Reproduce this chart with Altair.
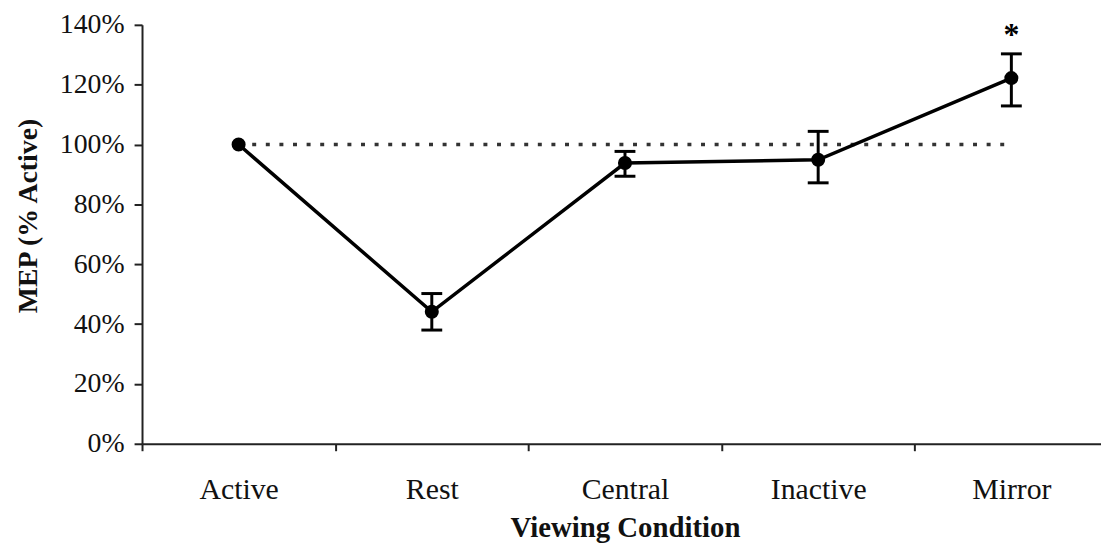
import altair as alt
import pandas as pd

conditions = ["Active", "Rest", "Central", "Inactive", "Mirror"]
mep = [1.00, 0.441, 0.938, 0.949, 1.222]
err_low = [None, 0.380, 0.894, 0.872, 1.129]
err_high = [None, 0.502, 0.977, 1.044, 1.303]
sig_marks = ["", "", "", "", "*"]
sig_y = [None, None, None, None, 1.377]
y_ticks = [0.0, 0.2, 0.4, 0.6, 0.8, 1.0, 1.2, 1.4]
reference_level = 1.0

df = pd.DataFrame({"cond": conditions, "mep": mep})
df_err = pd.DataFrame({"cond": conditions, "lo": err_low, "hi": err_high}).dropna()
df_sig = pd.DataFrame({"cond": conditions, "mark": sig_marks, "y": sig_y}).dropna()
df_ref = pd.DataFrame({"start": [conditions[0]], "end": [conditions[-1]], "y": [reference_level]})

FONT = "Liberation Serif"
BAND = 194.6

x_scale = alt.Scale(domain=conditions, range=[0, BAND * 5], paddingInner=0, paddingOuter=0)
y_scale = alt.Scale(domain=[0, 1.4], nice=False, zero=True)

x_axis = alt.Axis(
    title="Viewing Condition", labelAngle=0, tickBand="extent", ticks=True,
    tickSize=7, tickWidth=2, tickColor="#222", domainColor="#222", domainWidth=2,
    labelFont=FONT, labelFontSize=30, labelColor="#111", labelPadding=48,
    labelBaseline="alphabetic",
    titleFont=FONT, titleFontSize=29, titleFontWeight="bold", titleColor="#111",
    titleBaseline="alphabetic", titleY=93, grid=False,
)
y_axis = alt.Axis(
    title="MEP (% Active)", format=".0%", values=y_ticks, grid=False,
    tickSize=8, tickWidth=2, tickColor="#222", domainColor="#222", domainWidth=2,
    labelFont=FONT, labelFontSize=28, labelColor="#111", labelPadding=10,
    titleFont=FONT, titleFontSize=28, titleFontWeight="bold", titleColor="#111",
    titleX=-100, titleY=192, titleAngle=-90, titleBaseline="bottom",
)

X = alt.X("cond:N", scale=x_scale, axis=x_axis, sort=conditions)

ref = alt.Chart(df_ref).mark_rule(
    color="#333", strokeWidth=3.5, strokeDash=[4, 9.7]
).encode(
    x=alt.X("start:N", scale=x_scale, axis=x_axis, sort=conditions),
    x2="end:N",
    y=alt.Y("y:Q", scale=y_scale, axis=y_axis),
)

line = alt.Chart(df).mark_line(color="#000", strokeWidth=3.5).encode(
    x=X, y=alt.Y("mep:Q", scale=y_scale, axis=y_axis)
)

err = alt.Chart(df_err).mark_rule(color="#000", strokeWidth=3).encode(
    x=X, y=alt.Y("lo:Q", scale=y_scale, axis=y_axis), y2="hi:Q"
)

cap_lo = alt.Chart(df_err).mark_tick(color="#000", size=21, thickness=3, opacity=1).encode(
    x=X, y=alt.Y("lo:Q", scale=y_scale, axis=y_axis)
)
cap_hi = alt.Chart(df_err).mark_tick(color="#000", size=21, thickness=3, opacity=1).encode(
    x=X, y=alt.Y("hi:Q", scale=y_scale, axis=y_axis)
)

pts = alt.Chart(df).mark_point(filled=True, color="#000", size=200, opacity=1).encode(
    x=X, y=alt.Y("mep:Q", scale=y_scale, axis=y_axis)
)

star = alt.Chart(df_sig).mark_text(
    font=FONT, fontSize=32, fontWeight="bold", color="#000", baseline="middle", dy=3
).encode(
    x=X, y=alt.Y("y:Q", scale=y_scale, axis=y_axis), text="mark:N"
)

chart = alt.layer(ref, line, err, cap_lo, cap_hi, pts, star).properties(
    width=966, height=422,
    autosize=alt.AutoSizeParams(type="none"),
    padding={"left": 135, "top": 15, "right": 0, "bottom": 98},
).configure_view(stroke=None)

chart.save("out.html", embed_options={"renderer": "svg", "actions": False})
